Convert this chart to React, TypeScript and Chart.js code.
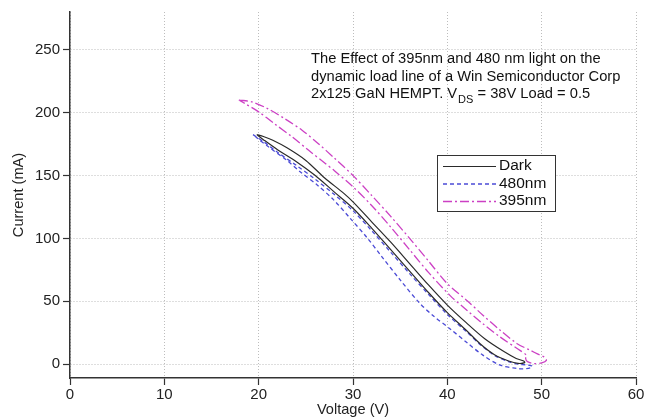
import { useEffect, useRef } from "react";
import { Chart, registerables } from "chart.js";

Chart.register(...registerables);

const FONT = "'Liberation Sans', Arial, Helvetica, sans-serif";

const X_TICKS = [0, 10, 20, 30, 40, 50, 60];
const Y_TICKS = [0, 50, 100, 150, 200, 250];
const SERIES_LABELS = ["Dark", "480nm", "395nm"];

// Dark: loop (upper branch out, lower branch back)
const DARK_V = [19.8, 20.5, 21.5, 23, 25, 27, 29, 30, 32, 34, 36, 38, 40, 42, 44, 46, 47.3, 48.1, 48.2,
  47.5, 46.5, 45, 43.5, 42, 40, 38, 36, 34, 32, 30, 28, 26, 24, 22, 20.5, 19.8];
const DARK_I = [182.5, 181, 178, 172, 162, 148, 136, 129, 113, 97, 80, 63, 47, 33, 20, 10, 4.5, 2.5, 1.2,
  0.6, 2.5, 7.5, 16, 27, 41, 57, 74, 91, 108, 124, 137, 150, 161, 170.5, 178.5, 182.5];

// 480nm
const B480_V = [19.4, 20.5, 22, 24, 26, 28, 30, 32, 34, 36, 38, 40, 42, 43.5, 45, 46.5, 47.5, 48.3, 49, 48.8, 48, 47.4,
  45.6, 43.8, 42.1, 40.3, 38.5, 37, 35, 33, 31.5, 29.7, 27.9, 26.2, 24.4, 23, 21, 19.8, 19.4];
const B480_I = [182.5, 177, 168.5, 158, 147, 135, 122, 106, 89, 72, 55.5, 39.5, 26, 15.5, 7, 2, 0, -0.5, -1.5, -3, -3.8, -3.4,
  -0.8, 7, 17, 28, 38.5, 49, 67, 86, 100.5, 116, 131, 142.5, 153, 162, 173, 180, 182.5];

// 395nm
const P395_V = [17.9, 19.3, 21, 22.8, 24.6, 26.3, 28, 30, 32, 34, 36, 38, 40, 42.1, 43.8, 45.6, 47.4, 48.8, 49.6, 50.3, 50.5, 50, 49.2, 48.5, 48.3, 48.4,
  47.4, 45.6, 43.8, 42.1, 40.3, 38, 36, 34, 32, 30, 28, 27, 25.3, 23.5, 21.7, 20, 18.6, 17.9];
const P395_I = [210, 208.5, 203, 195, 186, 175.5, 164, 150, 134, 117.5, 100, 82, 64, 50.5, 38.7, 27, 16.3, 11, 8, 5.5, 3, 1, 0.5, 2, 4.5, 7,
  12.4, 21.6, 32, 42.7, 54.5, 73, 91, 109, 126, 141, 154, 160, 170, 181, 191, 200.6, 207, 210];

const NOTE_LINES = [
  "The Effect of 395nm and 480 nm light on the",
  "dynamic load line of a Win Semiconductor Corp",
];
const NOTE_LAST = ["2x125 GaN HEMPT. V", "DS", " = 38V Load = 0.5"];

const toXY = (v: number[], i: number[]) => v.map((x, k) => ({ x, y: i[k] }));

const overlayPlugin = {
  id: "overlay",
  afterDraw(chart: any) {
    const ctx = chart.ctx as CanvasRenderingContext2D;
    ctx.save();
    // annotation text
    ctx.fillStyle = "#111";
    ctx.textBaseline = "middle";
    ctx.textAlign = "left";
    ctx.font = `14.7px ${FONT}`;
    const x0 = 311;
    NOTE_LINES.forEach((t, k) => ctx.fillText(t, x0, 59 + k * 17.5));
    const y3 = 59 + 2 * 17.5;
    let x = x0;
    ctx.fillText(NOTE_LAST[0], x, y3);
    x += ctx.measureText(NOTE_LAST[0]).width + 1;
    ctx.font = `11px ${FONT}`;
    ctx.fillText(NOTE_LAST[1], x, y3 + 6);
    x += ctx.measureText(NOTE_LAST[1]).width;
    ctx.font = `14.7px ${FONT}`;
    ctx.fillText(NOTE_LAST[2], x, y3);

    // legend box
    const bx = 437, by = 155, bw = 118, bh = 56;
    ctx.fillStyle = "#fff";
    ctx.fillRect(bx, by, bw, bh);
    ctx.strokeStyle = "#333";
    ctx.lineWidth = 1;
    ctx.strokeRect(bx + 0.5, by + 0.5, bw, bh);
    chart.data.datasets.forEach((ds: any, k: number) => {
      const yy = by + 11 + k * 17.5;
      ctx.save();
      ctx.strokeStyle = ds.borderColor;
      ctx.lineWidth = ds.borderWidth;
      ctx.setLineDash(ds.borderDash || []);
      ctx.beginPath();
      ctx.moveTo(bx + 6, yy + 0.5);
      ctx.lineTo(bx + 59, yy + 0.5);
      ctx.stroke();
      ctx.restore();
      ctx.fillStyle = "#111";
      ctx.font = `15.5px ${FONT}`;
      ctx.textBaseline = "middle";
      ctx.fillText(ds.label, bx + 62, yy);
    });
    ctx.restore();
  },
};

export default function App() {
  const ref = useRef<HTMLCanvasElement | null>(null);
  useEffect(() => {
    if (!ref.current) return;
    const gridCommon = {
      color: "#bdbdbd",
      lineWidth: 1,
      tickColor: "#333",
      tickWidth: 1.2,
      tickLength: 7,
      drawTicks: true,
    };
    const chart = new Chart(ref.current, {
      type: "scatter",
      data: {
        datasets: [
          {
            label: SERIES_LABELS[0],
            data: toXY(DARK_V, DARK_I),
            borderColor: "#2a2a2a",
            borderWidth: 1.2,
            borderDash: [],
            showLine: true,
            pointRadius: 0,
            tension: 0.3,
          },
          {
            label: SERIES_LABELS[1],
            data: toXY(B480_V, B480_I),
            borderColor: "#4b4bd6",
            borderWidth: 1.3,
            borderDash: [4, 3],
            showLine: true,
            pointRadius: 0,
            tension: 0.3,
          },
          {
            label: SERIES_LABELS[2],
            data: toXY(P395_V, P395_I),
            borderColor: "#cc40c4",
            borderWidth: 1.3,
            borderDash: [9, 3, 2, 3],
            showLine: true,
            pointRadius: 0,
            tension: 0.3,
          },
        ],
      },
      options: {
        animation: false,
        responsive: true,
        maintainAspectRatio: false,
        layout: { padding: { top: 10, right: 10, left: 0, bottom: 0 } },
        plugins: { legend: { display: false }, tooltip: { enabled: false } },
        scales: {
          x: {
            type: "linear",
            min: 0,
            max: 60,
            afterBuildTicks: (s: any) => {
              s.ticks = X_TICKS.map((v) => ({ value: v }));
            },
            afterFit: (s: any) => {
              s.height = 39;
            },
            grid: gridCommon,
            border: { display: true, color: "#333", width: 1.5, dash: [1, 2] },
            ticks: { color: "#222", font: { size: 15, family: FONT }, padding: 1, maxRotation: 0 },
            title: {
              display: true,
              text: "Voltage (V)",
              color: "#222",
              font: { size: 14.6, family: FONT, lineHeight: 1.0 },
              padding: { top: 0, bottom: 0 },
            },
          },
          y: {
            type: "linear",
            min: -11,
            max: 280,
            afterBuildTicks: (s: any) => {
              s.ticks = Y_TICKS.map((v) => ({ value: v }));
            },
            afterFit: (s: any) => {
              s.width = 70;
            },
            grid: gridCommon,
            border: { display: true, color: "#333", width: 1.5, dash: [1, 2] },
            ticks: { color: "#222", font: { size: 15, family: FONT }, padding: 3 },
            title: {
              display: true,
              text: "Current (mA)",
              color: "#222",
              font: { size: 14.6, family: FONT },
              padding: { top: 10, bottom: 0 },
            },
          },
        },
      },
      plugins: [overlayPlugin],
    } as any);
    return () => chart.destroy();
  }, []);
  return (
    <div style={{ position: "fixed", left: 0, top: 0, width: 646, height: 417, background: "#fff" }}>
      <canvas ref={ref} />
    </div>
  );
}
